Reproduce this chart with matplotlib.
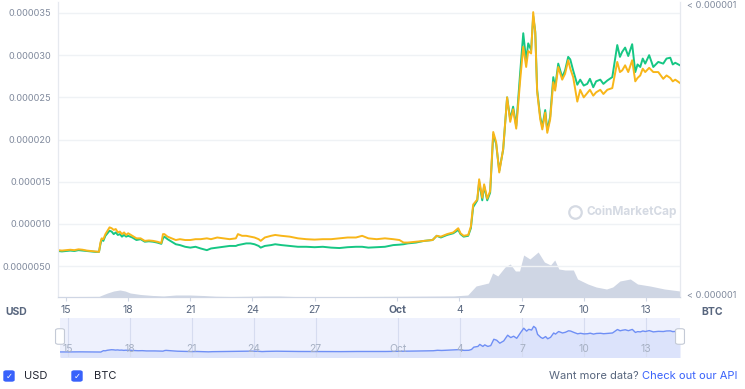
import numpy as np
import matplotlib.pyplot as plt
from matplotlib.patches import FancyBboxPatch

plt.rcParams['font.family'] = ['Inter', 'DejaVu Sans']

# days after Sep 15, prices in units of 1e-6
days = [-0.39, -0.2, 0.0, 0.2, 0.4, 0.6, 0.8, 1.0, 1.2, 1.4, 1.59, 1.66, 1.72, 1.8, 1.9,
        2.0, 2.1, 2.2, 2.3, 2.4, 2.5, 2.6, 2.7, 2.8, 2.9, 3.0, 3.2, 3.4, 3.6, 3.8,
        4.0, 4.2, 4.4, 4.6, 4.68, 4.75, 4.9, 5.1, 5.3, 5.5, 5.75, 6.0, 6.25, 6.5, 6.8,
        7.0, 7.3, 7.6, 7.9, 8.2, 8.3, 8.5, 8.7, 8.9, 9.1, 9.3, 9.4, 9.6, 9.9, 10.1,
        10.4, 10.8, 11.2, 11.6, 12.0, 12.4, 12.8, 13.2, 13.6, 14.0, 14.3, 14.6, 15.0, 15.4, 15.8,
        16.1, 16.3, 16.5, 16.9, 17.3, 17.7, 17.9, 18.1, 18.4, 18.7, 18.94, 19.05, 19.2, 19.42, 19.55,
        19.66, 19.86, 19.95, 20.1, 20.19, 20.34, 20.48, 20.63, 20.77, 20.92, 21.11, 21.3, 21.45, 21.59, 21.74,
        21.93, 22.08, 22.22, 22.32, 22.46, 22.56, 22.66, 22.75, 22.9, 23.0, 23.14, 23.24, 23.38, 23.53, 23.62,
        23.77, 23.96, 24.1, 24.25, 24.35, 24.49, 24.69, 24.83, 25.0, 25.17, 25.3, 25.46, 25.6, 25.8, 25.95,
        26.14, 26.38, 26.62, 26.75, 26.86, 27.0, 27.15, 27.34, 27.49, 27.6, 27.73, 27.85, 27.97, 28.16, 28.36,
        28.6, 28.84, 29.0, 29.18, 29.3, 29.42, 29.65]
usd = [6.8, 6.75, 6.8, 6.85, 6.8, 6.9, 6.85, 6.8, 6.75, 6.7, 6.7, 7.6, 8.2, 8.0, 8.6,
       8.9, 9.2, 9.1, 8.8, 9.0, 8.7, 8.8, 8.5, 8.7, 8.5, 8.6, 8.4, 8.1, 8.2, 7.9,
       7.95, 7.9, 7.8, 7.65, 8.3, 8.5, 8.2, 7.9, 7.6, 7.5, 7.3, 7.2, 7.3, 7.1, 6.9,
       7.1, 7.2, 7.3, 7.4, 7.4, 7.5, 7.6, 7.7, 7.7, 7.6, 7.4, 7.2, 7.4, 7.5, 7.6,
       7.5, 7.4, 7.3, 7.3, 7.25, 7.3, 7.2, 7.15, 7.25, 7.3, 7.3, 7.2, 7.25, 7.3, 7.5,
       7.55, 7.6, 7.7, 7.8, 8.0, 8.1, 8.6, 8.4, 8.7, 8.9, 9.3, 8.8, 8.5, 8.6, 9.5,
       12.0, 12.8, 15.0, 12.8, 14.5, 12.8, 13.7, 20.6, 19.5, 16.3, 18.8, 25.0, 22.4, 23.9, 21.6,
       27.9, 32.6, 29.4, 31.4, 30.6, 34.6, 32.8, 25.9, 22.7, 21.5, 23.5, 21.1, 22.7, 27.4, 26.2,
       29.0, 27.4, 28.2, 29.8, 29.5, 28.2, 26.5, 27.1, 26.4, 26.6, 27.2, 26.2, 26.9, 27.1, 26.6,
       27.0, 27.4, 31.2, 29.8, 30.4, 30.9, 29.9, 31.3, 28.0, 28.9, 28.6, 29.6, 29.0, 30.0, 28.6,
       29.2, 29.0, 29.6, 29.7, 28.9, 29.1, 28.8]
btc = [6.9, 6.85, 6.9, 6.95, 6.9, 7.0, 6.95, 6.85, 6.8, 6.75, 6.7, 7.8, 8.3, 8.2, 8.8,
       9.2, 9.6, 9.5, 9.3, 9.4, 9.0, 9.1, 8.8, 9.0, 8.7, 8.9, 8.6, 8.3, 8.3, 8.0,
       8.05, 8.0, 7.9, 7.75, 8.8, 8.8, 8.5, 8.3, 8.1, 8.2, 8.1, 8.1, 8.2, 8.2, 8.3,
       8.2, 8.4, 8.3, 8.2, 8.3, 8.8, 8.6, 8.6, 8.5, 8.4, 8.2, 8.0, 8.4, 8.6, 8.7,
       8.6, 8.5, 8.3, 8.2, 8.15, 8.2, 8.2, 8.3, 8.4, 8.4, 8.6, 8.3, 8.2, 8.3, 8.2,
       8.1, 7.8, 7.8, 7.9, 8.0, 8.1, 8.6, 8.5, 8.8, 9.0, 9.5, 8.9, 8.6, 8.7, 9.7,
       12.3, 12.9, 15.3, 13.1, 14.7, 13.0, 13.9, 20.9, 19.7, 16.1, 18.9, 25.0, 22.1, 23.6, 21.3,
       27.0, 31.0, 28.6, 30.5, 30.2, 35.1, 32.6, 25.7, 22.4, 21.2, 23.2, 20.8, 22.4, 26.8, 25.8,
       28.6, 27.1, 27.8, 29.4, 28.4, 27.4, 24.5, 25.9, 25.0, 25.5, 25.9, 25.2, 25.6, 25.9, 25.4,
       25.9, 26.1, 29.2, 28.0, 28.2, 28.8, 28.0, 29.4, 26.9, 27.3, 27.6, 28.4, 28.0, 28.5, 28.0,
       28.0, 27.2, 27.6, 27.3, 26.9, 27.1, 26.7]

vol_days = [-0.39, 1.6, 1.75, 2.0, 2.3, 2.6, 2.85, 3.1, 3.6, 4.2, 4.7, 5.3, 6.0, 6.6, 7.2,
            8.0, 9.6, 10.3, 11.0, 14.0, 18.7, 19.4, 19.8, 20.4, 20.6, 20.85, 21.2, 21.45, 21.7, 21.9,
            22.1, 22.4, 22.8, 23.1, 23.4, 23.6, 23.8, 24.1, 24.5, 24.7, 25.2, 25.6, 26.1, 26.4, 26.75,
            27.25, 27.6, 28.2, 28.9, 29.65]
volume = [0.4, 0.6, 2, 4, 6, 7, 6, 4, 2.5, 1.5, 1, 2, 2, 1.5, 0.8,
          0.5, 1, 1, 0.5, 0.5, 1, 2, 11, 14, 24, 21, 30, 33, 26, 26,
          42, 38, 45, 35, 32, 37, 28, 27, 27, 18, 13, 10, 8, 10, 16,
          18, 13, 11, 8, 6]

tick_days = [0, 3, 6, 9, 12, 16, 19, 22, 25, 28]
tick_labels = ['15', '18', '21', '24', '27', 'Oct', '4', '7', '10', '13']
y_ticks = [5, 10, 15, 20, 25, 30, 35]
y_labels = ['0.0000050', '0.000010', '0.000015', '0.000020', '0.000025', '0.000030', '0.000035']

GREEN = '#16c784'
ORANGE = '#f8b619'
GRAY = '#808a9d'
GRID = '#eff2f5'

fig = plt.figure(figsize=(7.45, 3.89), dpi=100)
ax = fig.add_axes([58 / 745, 92 / 389, 622 / 745, 295 / 389])
xlim = (days[0], days[-1])

axv = ax.twinx()
axv.fill_between(vol_days, volume, color='#cfd6e4', lw=0)
axv.set_ylim(0, 295)
axv.set_yticks([])
axv.set_zorder(0)
ax.set_zorder(1)
ax.patch.set_visible(False)

ax.plot(days, usd, color=GREEN, lw=1.4)
ax.plot(days, btc, color=ORANGE, lw=1.4)
ax.set_xlim(xlim)
ax.set_ylim(1.35, 36.3)
ax.set_yticks(y_ticks)
ax.set_yticklabels(y_labels)
ax.set_xticks(tick_days)
ax.set_xticklabels(tick_labels)
ax.grid(axis='y', color=GRID, lw=1)
ax.tick_params(axis='y', length=0, pad=5, labelsize=6.6, labelcolor=GRAY)
ax.tick_params(axis='x', length=3, color='#cfd6e4', pad=3, labelsize=7.5, labelcolor='#58667e')
for lbl in ax.get_xticklabels():
    if lbl.get_text() == 'Oct':
        lbl.set_fontweight('bold')
for a in (ax, axv):
    a.spines['top'].set_visible(False)
    a.spines['left'].set_color('#e6e9ef')
    a.spines['right'].set_color('#e6e9ef')
    a.spines['bottom'].set_color('#cfd6e4')

ax.text(-0.05, -0.035, 'USD', transform=ax.transAxes, ha='right', va='top', fontsize=7.5,
        fontweight='bold', color='#58667e')
ax.text(1.035, -0.035, 'BTC', transform=ax.transAxes, ha='left', va='top', fontsize=7.5,
        fontweight='bold', color='#58667e')
fig.text(687 / 745, 1 - 5 / 389, '< 0.000001', ha='left', va='center', fontsize=6.6, color=GRAY)
fig.text(687 / 745, 1 - 295 / 389, '< 0.000001', ha='left', va='center', fontsize=6.6, color=GRAY)

# watermark
ax.text(0.849, 0.288, 'CoinMarketCap', transform=ax.transAxes, ha='left', va='center',
        fontsize=8.5, fontweight='bold', color='#d5dae3')
ax.plot([0.831], [0.288], transform=ax.transAxes, marker='o', ms=9,
        mfc='none', mec='#d5dae3', mew=1.6)

# navigator
nav = fig.add_axes([60 / 745, 32 / 389, 620 / 745, 39 / 389])
nav.set_facecolor('#eef1fd')
nav.plot(days, usd, color='#6f8ff5', lw=1)
nav.fill_between(days, usd, 0, color='#dce3fb', lw=0)
nav.set_xlim(xlim)
nav.set_ylim(1.3, 43.7)
nav.set_xticks(tick_days)
nav.set_yticks([])
nav.grid(axis='x', color='#d6dcf0', lw=0.8)
nav.set_xticklabels([])
for d, t in zip(tick_days, tick_labels):
    nav.text(d, 0.08, t, transform=nav.get_xaxis_transform(), ha='center', va='bottom',
             fontsize=7.5, color='#a6b0c3')
nav.tick_params(length=0)
for s in nav.spines.values():
    s.set_visible(False)
for hx in (60 / 745, 680 / 745):
    fig.add_artist(FancyBboxPatch((hx - 0.006, 0.115), 0.012, 0.04,
                                  boxstyle='round,pad=0,rounding_size=0.004',
                                  transform=fig.transFigure, fc='white', ec='#c4cad6', lw=0.8))

# legend checkboxes
for bx, label, tx in [(4, 'USD', 24), (72, 'BTC', 94)]:
    fig.add_artist(FancyBboxPatch((bx / 745, 8 / 389), 10 / 745, 10 / 389,
                                  boxstyle='round,pad=0,rounding_size=0.003',
                                  transform=fig.transFigure, fc='#3861fb', ec='#3861fb'))
    fig.text((bx + 5) / 745, 13 / 389, '✓', ha='center', va='center', fontsize=6,
             color='white', family=['DejaVu Sans'])
    fig.text(tx / 745, 13 / 389, label, ha='left', va='center', fontsize=8, color='#222531')

fig.text(642 / 745, 13 / 389, 'Want more data? ', ha='right', va='center', fontsize=8,
         color='#58667e')
fig.text(642 / 745, 13 / 389, 'Check out our API', ha='left', va='center', fontsize=8,
         color='#3861fb')

fig.savefig('out.png', dpi=100)
